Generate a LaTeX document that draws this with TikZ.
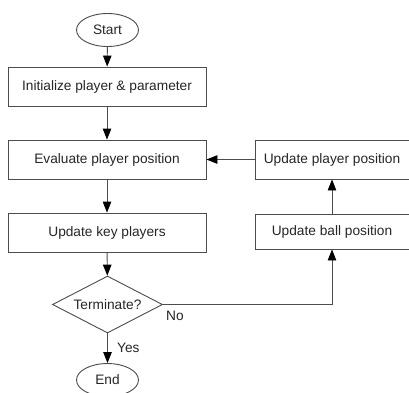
\documentclass[tikz,border=0pt]{standalone}
\usepackage{fontspec}
\setmainfont{Liberation Sans}
\usetikzlibrary{shapes.geometric,arrows.meta}
\begin{document}
\begin{tikzpicture}[x=1pt,y=-1pt,
  every node/.style={font=\fontsize{13.7}{16}\selectfont, text=black!85},
  stepbox/.style={draw=black!70, line width=0.9pt, rectangle, inner sep=0pt},
  term/.style={draw=black!70, line width=0.9pt, ellipse, inner sep=0pt, minimum width=62pt, minimum height=33pt},
  decide/.style={draw=black!70, line width=0.9pt, diamond, inner sep=0pt, shape aspect=1.93, minimum width=110pt, minimum height=57pt},
  conn/.style={draw=black!70, line width=0.9pt, -{Triangle[length=11pt,width=8.5pt,color=black,fill=black]}},
  lbl/.style={inner sep=0pt, anchor=west}
]
\useasboundingbox (0,0) rectangle (409,392);
\fill[white] (0,0) rectangle (409,392);
\node[term] (start) at (107.5,30) {Start};
\node[stepbox, minimum width=198pt, minimum height=39pt] (init) at (107,86.5) {Initialize player \& parameter};
\node[stepbox, minimum width=198pt, minimum height=39pt] (eval) at (107,159.5) {Evaluate player position};
\node[stepbox, minimum width=198pt, minimum height=39pt] (key) at (107,232.5) {Update key players};
\node[decide] (term) at (107.5,304.5) {Terminate?};
\node[term] (end) at (107.5,380) {End};
\node[stepbox, minimum width=154pt, minimum height=39pt] (upp) at (332,159.5) {Update player position};
\node[stepbox, minimum width=154pt, minimum height=35pt] (ubp) at (332,231.5) {Update ball position};
\draw[conn] (start) -- (init);
\draw[conn] (init) -- (eval);
\draw[conn] (eval) -- (key);
\draw[conn] (key) -- (term);
\draw[conn] (term) -- (end);
\draw[conn] (term.east) -| (ubp.south);
\draw[conn] (ubp) -- (upp);
\draw[conn] (upp) -- (eval);
\node[lbl] (yes) at (117,348) {Yes};
\node[lbl] (no) at (166,316) {No};
\end{tikzpicture}
\end{document}
